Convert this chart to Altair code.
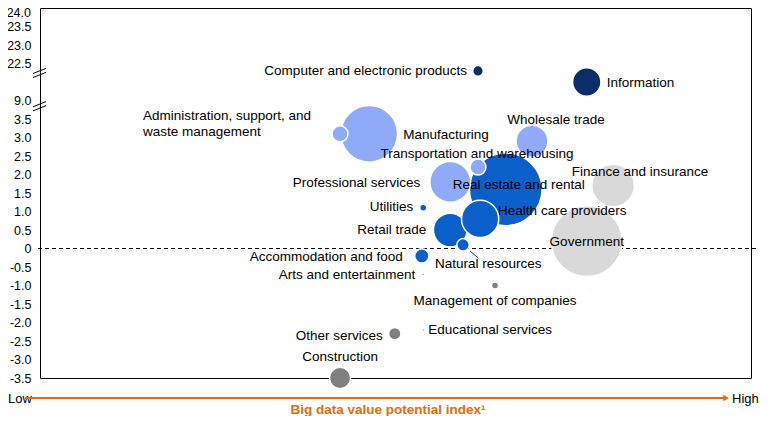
import altair as alt
import pandas as pd

# ---- data ----
sectors = [
    "Real estate and rental", "Government", "Manufacturing", "Finance and insurance",
    "Professional services", "Retail trade", "Health care providers", "Wholesale trade",
    "Information", "Construction", "Administration, support, and waste management",
    "Transportation and warehousing", "Natural resources", "Accommodation and food",
    "Other services", "Computer and electronic products", "Utilities",
    "Management of companies", "Arts and entertainment", "Educational services",
]
# Big data value potential index (relative, 0-100)
value_index = [65.5, 76.9, 46.3, 80.6, 57.7, 57.7, 61.9, 69.2, 76.9, 42.2,
               42.2, 61.6, 59.5, 53.7, 49.9, 61.6, 53.9, 64.0, 53.9, 53.9]
# Productivity growth (%)
growth = [1.6, 0.2, 3.1, 1.7, 1.8, 0.5, 0.8, 2.9, 9.5, -3.5,
          3.1, 2.2, 0.1, -0.2, -2.3, 22.3, 1.1, -1.0, -0.7, -2.2]
# Bubble size (relative share)
share = [1681, 1600, 1024, 576, 529, 361, 441, 324, 256, 144,
         81, 81, 49, 64, 49, 36, 16, 16, 2.25, 2.25]
group = ["blue", "lightgray", "lightblue", "lightgray", "lightblue", "blue", "blue", "lightblue",
         "navy", "gray", "lightblue", "lightblue", "blue", "blue", "gray", "navy", "blue",
         "gray", "gray", "gray"]

y_ticks = [-3.5 + 0.5 * i for i in range(21)]
breaks = [3.8, 4.7]

# ---- label layout (align, dx, dy in px) ----
label_layout = {
    "Real estate and rental": ("center", 13, -4),
    "Government": ("center", 0, 1),
    "Manufacturing": ("left", 34, 1),
    "Finance and insurance": ("center", 27, -14),
    "Professional services": ("right", -30, 1),
    "Retail trade": ("right", -24, 0),
    "Health care providers": ("left", 18, -8),
    "Wholesale trade": ("center", 24, -21),
    "Information": ("left", 20, 1),
    "Construction": ("center", 0, -21),
    "Administration, support, and waste management": ("left", -197, -18),
    "Transportation and warehousing": ("center", -1, -13),
    "Natural resources": ("left", -28, 19),
    "Accommodation and food": ("right", -19, 1),
    "Other services": ("right", -12, 2),
    "Computer and electronic products": ("right", -11, 0),
    "Utilities": ("right", -10, -1),
    "Management of companies": ("center", 0, 15),
    "Arts and entertainment": ("right", -8, 1),
    "Educational services": ("left", 5, 0),
}

colors = {"navy": "#0B2E6B", "blue": "#0A5FCB", "lightblue": "#8FAAF8",
          "lightgray": "#D9D9D9", "gray": "#808080"}

df = pd.DataFrame({
    "sector": sectors, "x": value_index, "growth": growth, "share": share,
    "group": group, "order": list(range(len(sectors))),
})

FONT = "Liberation Sans"
FS = 13.5
W, H = 711, 370

xs = alt.Scale(domain=[0, 100])
ys = alt.Scale(domain=[-3.5, 6.5], nice=False, zero=False)

label_expr = (
    "datum.value > 6.25 ? '' : (datum.value > 4.75 ? format(datum.value + 17.5, '.1f') : "
    "(datum.value > 4.25 ? '' : (datum.value > 3.75 ? '9.0' : "
    "(abs(datum.value) < 0.01 ? '0' : (datum.value < 0 ? '-' : '') + format(abs(datum.value), '.1f')))))"
)


def yaxis():
    return alt.Axis(
        values=y_ticks, labelExpr=label_expr, title=None, grid=False, ticks=False,
        domain=False, labelFont=FONT, labelFontSize=12.5, labelColor="#000000",
        labelPadding=9, labelOverlap=False, labelBound=False)


def xaxis():
    return None


base = alt.Chart(df).transform_calculate(
    yd="datum.growth <= 3.5 ? datum.growth : (datum.growth < 15 ? 4 + (datum.growth - 9) : 5 + (datum.growth - 22.5))"
)

zero_line = alt.Chart(pd.DataFrame({"y": [0]})).mark_rule(
    color="black", strokeDash=[4, 3], strokeWidth=1
).encode(
    y=alt.Y("y:Q", scale=ys, axis=yaxis()),
    x=alt.value(-2), x2=alt.value(W + 7),
)

top_label = alt.Chart(pd.DataFrame({"y": [6.5]})).mark_text(
    align="right", baseline="top", font=FONT, fontSize=12.5, color="#000000", dx=-9, dy=-1
).encode(y=alt.Y("y:Q", scale=ys, axis=yaxis()), x=alt.value(0), text=alt.value("24.0"))

bubbles = base.mark_circle(opacity=1, stroke="white", strokeWidth=1.5).encode(
    x=alt.X("x:Q", scale=xs, axis=xaxis()),
    y=alt.Y("yd:Q", scale=ys, axis=yaxis()),
    size=alt.Size("share:Q", scale=alt.Scale(type="linear", domain=[0, 1681], range=[0, 5281], zero=True), legend=None),
    color=alt.Color("group:N", scale=alt.Scale(domain=list(colors.keys()), range=list(colors.values())), legend=None),
    order=alt.Order("order:Q"),
)

labels = []
for s in sectors:
    a, dx, dy = label_layout[s]
    is_multi = s.startswith("Administration")
    kw = {"text": ["Administration, support, and", "waste management"]} if is_multi else {}
    enc = {} if is_multi else {"text": alt.Text("sector:N")}
    labels.append(
        base.transform_filter(alt.datum.sector == s).mark_text(
            align=a, baseline="middle", font=FONT, fontSize=FS, color="#000000",
            dx=dx, dy=dy, lineHeight=16, **kw
        ).encode(
            x=alt.X("x:Q", scale=xs, axis=xaxis()),
            y=alt.Y("yd:Q", scale=ys, axis=yaxis()),
            **enc
        )
    )

# leader line for Natural resources
leader = base.transform_filter(alt.datum.sector == "Natural resources").transform_calculate(
    lx1="datum.x + 1.0", lx2="datum.x + 2.1", ly1="datum.yd - 0.17", ly2="datum.yd - 0.35"
).mark_rule(color="#404040", strokeWidth=1).encode(
    x=alt.X("lx1:Q", scale=xs, axis=xaxis()), x2="lx2:Q",
    y=alt.Y("ly1:Q", scale=ys, axis=yaxis()), y2="ly2:Q",
)

brk_df = pd.DataFrame({"b": breaks * 2, "k": [0, 0, 1, 1]})
brk = alt.Chart(brk_df).transform_calculate(
    y1="datum.b - 0.08 + datum.k * 0.11", y2="datum.b + 0.06 + datum.k * 0.11"
).mark_rule(color="black", strokeWidth=1).encode(
    x=alt.value(-7), x2=alt.value(6),
    y=alt.Y("y1:Q", scale=ys, axis=yaxis()), y2="y2:Q",
)

deco = pd.DataFrame({"t": ["x"]})
low = alt.Chart(deco).mark_text(align="left", baseline="middle", font=FONT, fontSize=13, color="#000000").encode(
    x=alt.value(-32), y=alt.value(H + 21), text=alt.value("Low"))
high = alt.Chart(deco).mark_text(align="left", baseline="middle", font=FONT, fontSize=13, color="#000000").encode(
    x=alt.value(W - 19), y=alt.value(H + 21), text=alt.value("High"))
arrow = alt.Chart(deco).mark_rule(color="#E46C0A", strokeWidth=2).encode(
    x=alt.value(-15), x2=alt.value(W - 26), y=alt.value(H + 20))
head = alt.Chart(deco).mark_point(shape="triangle-right", filled=True, color="#E46C0A", size=40, opacity=1).encode(
    x=alt.value(W - 25), y=alt.value(H + 20))
title = alt.Chart(deco).mark_text(align="center", baseline="middle", font=FONT, fontSize=13.5,
                                  fontWeight="bold", color="#E46C0A").encode(
    x=alt.value(348), y=alt.value(H + 32), text=alt.value("Big data value potential index¹"))

chart = alt.layer(
    zero_line, top_label, bubbles, leader, *labels, brk, low, high, arrow, head, title
).properties(
    width=W, height=H,
    autosize=alt.AutoSizeParams(type="none"),
    padding={"left": 32, "top": 0, "right": 8, "bottom": 38},
).configure_view(stroke="black", strokeWidth=1).configure_text(limit=0)

chart.save("out.html", embed_options={"renderer": "svg", "actions": False})
